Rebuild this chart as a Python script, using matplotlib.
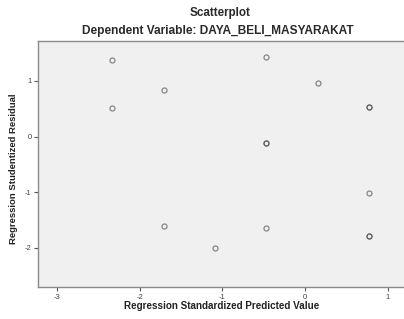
import matplotlib
matplotlib.use("Agg")
import matplotlib.pyplot as plt

# Data (duplicates appear as darker markers)
pred_values = [-2.334, -2.334, -1.711, -0.470, -0.470, -0.470, 0.153, 0.773, 0.773,
               0.773, -1.711, -1.090, -0.470, 0.773, 0.773]
resid_values = [1.377, 0.521, 0.833, 1.425, -0.108, -0.108, 0.969, 0.528, 0.528,
                -1.016, -1.598, -1.998, -1.645, -1.788, -1.788]
x_ticks = [-3, -2, -1, 0, 1]
y_ticks = [-2, -1, 0, 1]

title1 = "Scatterplot"
title2 = "Dependent Variable: DAYA_BELI_MASYARAKAT"
xlabel = "Regression Standardized Predicted Value"
ylabel = "Regression Studentized Residual"

plt.rcParams['font.family'] = ['Liberation Sans', 'DejaVu Sans']

W, H = 404, 319
fig = plt.figure(figsize=(W / 100, H / 100), dpi=100)
fig.patch.set_facecolor('white')
ax = fig.add_axes([37.7 / W, 1 - 287.3 / H, 1 - 37.7 / W, (287.3 - 40.7) / H])
ax.set_facecolor('#f0f0f0')

ax.plot(pred_values, resid_values, linestyle='none', marker='o', markersize=3.6,
        markerfacecolor='none', markeredgecolor=(0.25, 0.25, 0.25, 0.6),
        markeredgewidth=0.9)

ax.set_xlim(-3.2325, 1.193)
ax.set_ylim(-2.706, 1.7235)
ax.set_xticks(x_ticks)
ax.set_yticks(y_ticks)
ax.set_xticklabels([str(v) for v in x_ticks])
ax.set_yticklabels([str(v) for v in y_ticks])
ax.tick_params(axis='both', direction='out', length=3, width=0.8, color='#555555',
               labelsize=5.5, labelcolor='#444444', pad=1.5)
ax.tick_params(top=False, right=False)

for s in ['left', 'bottom', 'top']:
    ax.spines[s].set_color('#8a8a8a')
    ax.spines[s].set_linewidth(1.0)
ax.spines['right'].set_visible(False)

fig.text(220 / W, 1 - 13 / H, title1, ha='center', va='center', fontsize=8.4,
         fontweight='bold', color='#2a2a2a')
fig.text(218 / W, 1 - 31 / H, title2, ha='center', va='center', fontsize=8.6,
         fontweight='bold', color='#2a2a2a')
fig.text(222 / W, 1 - 306 / H, xlabel, ha='center', va='center', fontsize=7.1,
         fontweight='bold', color='#222222')
fig.text(14 / W, 1 - 168.5 / H, ylabel, ha='center', va='center', fontsize=6.8,
         fontweight='bold', color='#222222', rotation=90)

fig.savefig('out.png', dpi=100)
